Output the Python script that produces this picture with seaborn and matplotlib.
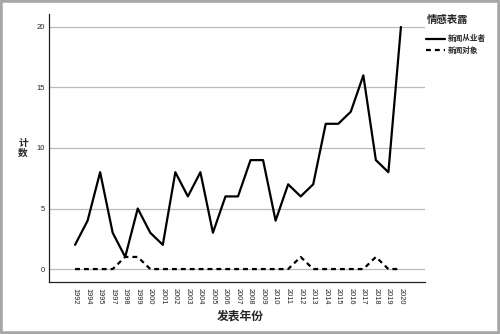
import matplotlib
matplotlib.use("Agg")
import matplotlib.pyplot as plt
import seaborn as sns
import pandas as pd
from matplotlib.patches import Rectangle

years = ["1992", "1994", "1995", "1997", "1998", "1999", "2000", "2001", "2002", "2003",
         "2004", "2005", "2006", "2007", "2008", "2009", "2010", "2011", "2012", "2013",
         "2014", "2015", "2016", "2017", "2018", "2019", "2020"]
journalists = [2, 4, 8, 3, 1, 5, 3, 2, 8, 6, 8, 3, 6, 6, 9, 9, 4, 7, 6, 7, 12, 12, 13, 16, 9, 8, 20]
subjects = [0, 0, 0, 0, 1, 1, 0, 0, 0, 0, 0, 0, 0, 0, 0, 0, 0, 0, 1, 0, 0, 0, 0, 0, 1, 0, 0]
series_names = ["新闻从业者", "新闻对象"]
yticks = [0, 5, 10, 15, 20]

df = pd.DataFrame({
    "idx": list(range(len(years))) * 2,
    "year": years * 2,
    "count": journalists + subjects,
    "情感表露": [series_names[0]] * len(years) + [series_names[1]] * len(years),
})

sns.set_theme(style="white")
plt.rcParams["font.family"] = ["Liberation Sans", "Noto Sans CJK SC", "DejaVu Sans"]
cjk = ["Noto Sans CJK SC", "DejaVu Sans"]

fig = plt.figure(figsize=(5, 3.34), dpi=100)
ax = fig.add_axes([49 / 500, 1 - 282 / 334, (425 - 49) / 500, (282 - 14) / 334])

sns.lineplot(data=df, x="idx", y="count", hue="情感表露", style="情感表露",
             palette=["black", "black"],
             dashes={series_names[0]: "", series_names[1]: (2.2, 1.8)},
             linewidth=1.6, ax=ax, legend=True)

ax.set_xlim(-2.08, 27.92)
ax.set_ylim(-1.07, 21.07)
ax.set_yticks(yticks)
ax.set_yticklabels([str(v) for v in yticks], fontsize=5.5)
ax.set_xticks(range(len(years)))
ax.set_xticklabels(years, rotation=-90, fontsize=5.3, va="top", ha="center")
ax.tick_params(axis="both", length=0, pad=3)
ax.tick_params(axis="x", pad=4)
for v in yticks:
    ax.axhline(v, color="#bbbbbb", linewidth=0.9, zorder=0)
ax.grid(False)

for s in ["top", "right"]:
    ax.spines[s].set_visible(False)
for s in ["left", "bottom"]:
    ax.spines[s].set_color("#222222")
    ax.spines[s].set_linewidth(0.9)

ax.set_xlabel("")
ax.set_ylabel("")
fig.text(23 / 500, 1 - 148 / 334, "计\n数", family=cjk, fontweight="bold",
         fontsize=7, ha="center", va="center", linespacing=1.0)
fig.text(240 / 500, 1 - 316 / 334, "发表年份", family=cjk, fontweight="bold",
         fontsize=8.5, ha="center", va="center")

handles, labels = ax.get_legend_handles_labels()
ax.legend_.remove()
fig.text(448 / 500, 1 - 20 / 334, "情感表露", family=cjk, fontweight="bold",
         fontsize=7.5, ha="center", va="center")
leg = fig.legend(handles, labels, loc="upper left",
                 bbox_to_anchor=(421 / 500, 1 - 29 / 334), frameon=False,
                 prop={"family": cjk, "size": 5.5, "weight": "bold"},
                 handlelength=2.4, handletextpad=0.4, labelspacing=0.35,
                 borderpad=0.2)
for line in leg.get_lines():
    line.set_linewidth(1.6)

fig.patches.append(Rectangle((0, 0), 1, 1, transform=fig.transFigure, fill=False,
                             edgecolor="#a6a6a6", linewidth=4, zorder=10))

fig.savefig("out.png", dpi=100)
